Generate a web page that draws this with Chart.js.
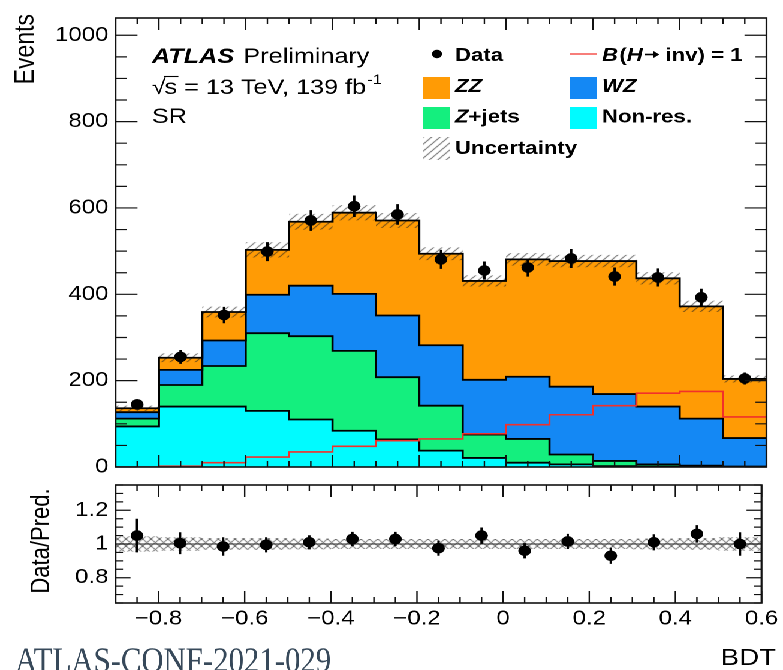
<!DOCTYPE html>
<html>
<head>
<meta charset="utf-8">
<script src="https://cdn.jsdelivr.net/npm/chart.js@4.4.1/dist/chart.umd.min.js"></script>
<style>
  html, body { margin: 0; padding: 0; background: #fff; overflow: hidden; }
  #wrap { position: absolute; left: 0; top: 0; width: 653px; height: 670px;
          transform: scaleX(1.19908); transform-origin: 0 0; }
  #wrap canvas { position: absolute; left: 0; top: 0; }
</style>
</head>
<body>
<div id="wrap">
  <canvas id="mainCanvas" width="653" height="670"></canvas>
  <canvas id="ratioCanvas" width="653" height="670"></canvas>
</div>
<script>
// ---- histogram content -------------------------------------------------
// BDT bin edges
const binEdges = [-0.9, -0.8, -0.7, -0.6, -0.5, -0.4, -0.3, -0.2, -0.1, 0.0, 0.1, 0.2, 0.3, 0.4, 0.5, 0.6];
// Background expectations per bin (events), stacked bottom to top
const nonRes = [94, 140, 140, 130, 110, 84, 64, 38, 21, 10, 6, 2, 1, 1, 0];
const zJets  = [18, 50, 94, 180, 193, 185, 144, 104, 54, 55, 23, 12, 5, 2, 1];
const wz     = [15, 35, 59, 89, 117, 132, 143, 140, 127, 144, 157, 155, 134, 109, 66];
const zz     = [9, 28, 66, 104, 148, 188, 220, 212, 229, 272, 291, 308, 297, 260, 137];
// Signal with B(H→inv) = 1, drawn unstacked
const signal = [0, 2, 10, 23, 35, 48, 61, 65, 77, 98, 121, 142, 171, 175, 116];
// Observed events and their statistical errors
const data    = [145, 255, 352, 499, 571, 604, 585, 481, 455, 462, 483, 441, 439, 393, 205];
const dataErr = [12, 16, 19, 22, 24, 25, 24, 22, 21, 21, 22, 21, 21, 20, 14];
// Data / prediction and its error
const ratio    = [1.05, 1.005, 0.985, 0.995, 1.01, 1.03, 1.03, 0.975, 1.05, 0.96, 1.015, 0.93, 1.01, 1.06, 1.0];
const ratioErr = [0.10, 0.065, 0.055, 0.045, 0.042, 0.042, 0.042, 0.045, 0.048, 0.045, 0.045, 0.048, 0.048, 0.052, 0.07];
// Relative uncertainty on the total prediction
const relUnc = [0.045, 0.04, 0.035, 0.035, 0.032, 0.03, 0.03, 0.03, 0.03, 0.03, 0.03, 0.03, 0.032, 0.035, 0.04];

// Axis ticks
const xTicks = [-0.8, -0.6, -0.4, -0.2, 0, 0.2, 0.4, 0.6];
const yTicks = [0, 200, 400, 600, 800, 1000];
const rTicks = [0.8, 1, 1.2];

// ---- geometry ------------------------------------------------------------
const W = 653, H = 670;
const SX = 783 / W;                 // the page is widened horizontally by this factor
const ux = x => x / SX;             // page x -> drawing x
const FRAME_L = ux(115.5), FRAME_R = ux(766.5);
const FONT = '"Liberation Sans", Arial, Helvetica, sans-serif';

const COLORS = {
  nonRes: '#00fbff', zJets: '#14ef7e', wz: '#1488f4', zz: '#ff9b05',
  signal: '#f2302a'
};

// ---- derived tables for the library -------------------------------------
const nBins = binEdges.length - 1;
const binCenters = binEdges.slice(0, nBins).map((e, i) => (e + binEdges[i + 1]) / 2);
const stackParts = [nonRes, zJets, wz, zz];
const cumulative = [];
{
  let run = new Array(nBins).fill(0);
  for (const part of stackParts) {
    run = run.map((v, i) => v + part[i]);
    cumulative.push(run);
  }
}
const total = cumulative[cumulative.length - 1];
const stepPoints = vals => binEdges.map((e, i) => ({ x: e, y: vals[Math.min(i, nBins - 1)] }));

// Hatch patterns
function hatchPattern(color, cross, size) {
  const c = document.createElement('canvas');
  c.width = size; c.height = size;
  const g = c.getContext('2d');
  g.strokeStyle = color; g.lineWidth = 1;
  g.beginPath();
  g.moveTo(-1, size + 1); g.lineTo(size + 1, -1);
  g.moveTo(-1, 1); g.lineTo(1, -1);
  g.moveTo(size - 1, size + 1); g.lineTo(size + 1, size - 1);
  if (cross) {
    g.moveTo(-1, -1); g.lineTo(size + 1, size + 1);
    g.moveTo(size - 1, -1); g.lineTo(size + 1, 1);
    g.moveTo(-1, size - 1); g.lineTo(1, size + 1);
  }
  g.stroke();
  return g.createPattern(c, 'repeat');
}
const mainHatch = hatchPattern('rgba(35,35,35,0.85)', false, 7);
const ratioHatch = hatchPattern('rgba(60,60,60,0.85)', true, 7);

// ---- shared drawing helpers --------------------------------------------
function frameAndTicks(chart, opt) {
  const { ctx, chartArea: a } = chart;
  const xs = chart.scales.x, ys = chart.scales.y;
  ctx.save();
  ctx.strokeStyle = '#111';
  ctx.lineWidth = 1.2;
  ctx.beginPath();
  for (const v of opt.xMinor) {
    const px = xs.getPixelForValue(v);
    const len = opt.xMajor.some(m => Math.abs(m - v) < 1e-9) ? opt.xLen : opt.xLen / 2;
    ctx.moveTo(px, a.bottom); ctx.lineTo(px, a.bottom - len);
    ctx.moveTo(px, a.top); ctx.lineTo(px, a.top + len);
  }
  for (const v of opt.yMinor) {
    const py = ys.getPixelForValue(v);
    const len = opt.yMajor.some(m => Math.abs(m - v) < 1e-9) ? opt.yLen : opt.yLen / 2;
    ctx.moveTo(a.left, py); ctx.lineTo(a.left + len, py);
    ctx.moveTo(a.right, py); ctx.lineTo(a.right - len, py);
  }
  ctx.stroke();
  ctx.lineWidth = 1.6;
  ctx.strokeRect(a.left, a.top, a.right - a.left, a.bottom - a.top);
  ctx.restore();
}
function range(from, to, step) {
  const out = [];
  for (let k = 0; from + k * step <= to + 1e-9; k++) out.push(+(from + k * step).toFixed(6));
  return out;
}
const xMinor = range(-0.9, 0.6, 0.05);

function txt(ctx, s, x, y, font, color) {
  ctx.font = font;
  ctx.fillStyle = color || '#000';
  ctx.fillText(s, x, y);
  return ctx.measureText(s).width;
}

// ---- main panel -----------------------------------------------------------
const mainPlugin = {
  id: 'mainDecor',
  beforeDatasetDraw(chart, args) {
    if (args.index !== 7) return;
    const { ctx } = chart;
    const xs = chart.scales.x, ys = chart.scales.y;
    ctx.save();
    ctx.strokeStyle = '#000';
    ctx.lineWidth = 2;
    ctx.beginPath();
    data.forEach((d, i) => {
      const px = xs.getPixelForValue(binCenters[i]);
      ctx.moveTo(px, ys.getPixelForValue(d - dataErr[i]));
      ctx.lineTo(px, ys.getPixelForValue(d + dataErr[i]));
    });
    ctx.stroke();
    ctx.restore();
  },
  afterDatasetsDraw(chart) {
    frameAndTicks(chart, {
      xMinor, xMajor: xTicks, xLen: 12,
      yMinor: range(0, 1000, 50), yMajor: yTicks, yLen: ux(22)
    });
  },
  afterDraw(chart) {
    const { ctx } = chart;
    ctx.save();
    ctx.textBaseline = 'alphabetic';
    ctx.textAlign = 'left';
    // Experiment label
    let x = ux(152);
    const reg = '21px ' + FONT;
    x += txt(ctx, 'ATLAS', x, 63, 'italic bold 21px ' + FONT);
    txt(ctx, ' Preliminary', x + 2, 63, reg);
    x = ux(152);
    const wRad = txt(ctx, '\u221A', x, 94, reg);
    const wS = txt(ctx, 's', x + wRad - 1, 94, reg);
    ctx.strokeStyle = '#000'; ctx.lineWidth = 1.1;
    ctx.beginPath(); ctx.moveTo(x + wRad - 1.5, 76.5); ctx.lineTo(x + wRad + wS, 76.5); ctx.stroke();
    let x2 = x + wRad + wS - 1;
    x2 += txt(ctx, ' = 13 TeV, 139 fb', x2, 94, reg);
    txt(ctx, '-1', x2 + 1, 84, '14px ' + FONT);
    txt(ctx, 'SR', ux(152), 123, reg);

    // Legend
    const lb = 'bold 18.5px ' + FONT, lbi = 'italic bold 18.5px ' + FONT;
    const c1 = ux(423), c2 = ux(570), t1 = ux(455), t2 = ux(602);
    const bw = ux(27);
    ctx.fillStyle = '#000';
    ctx.beginPath(); ctx.arc(ux(437), 54, 4.2, 0, Math.PI * 2); ctx.fill();
    txt(ctx, 'Data', t1, 61, lb);
    ctx.strokeStyle = COLORS.signal; ctx.lineWidth = 1.2;
    ctx.beginPath(); ctx.moveTo(c2, 54); ctx.lineTo(c2 + bw, 54); ctx.stroke();
    let xb = t2;
    xb += txt(ctx, 'B', xb, 61, lbi);
    xb += txt(ctx, '(', xb + 1, 61, lb) + 1;
    xb += txt(ctx, 'H', xb, 61, lbi);
    // arrow H → inv
    const ay = 54.5, ax0 = xb + 2, ax1 = xb + 13;
    ctx.strokeStyle = '#000'; ctx.lineWidth = 1.6;
    ctx.beginPath(); ctx.moveTo(ax0, ay); ctx.lineTo(ax1 - 1, ay); ctx.stroke();
    ctx.beginPath(); ctx.moveTo(ax1 + 1, ay); ctx.lineTo(ax1 - 4, ay - 3.5); ctx.lineTo(ax1 - 4, ay + 3.5);
    ctx.closePath(); ctx.fillStyle = '#000'; ctx.fill();
    txt(ctx, ' inv) = 1', ax1 + 1, 61, lb);

    const boxes = [
      [c1, 77, COLORS.zz], [c2, 77, COLORS.wz],
      [c1, 107, COLORS.zJets], [c2, 107, COLORS.nonRes]
    ];
    for (const [bx, by, col] of boxes) { ctx.fillStyle = col; ctx.fillRect(bx, by, bw, 22); }
    ctx.fillStyle = mainHatch; ctx.fillRect(c1, 137, bw, 23);
    txt(ctx, 'ZZ', t1, 92, lbi);
    txt(ctx, 'WZ', t2, 92, lbi);
    const wZ = txt(ctx, 'Z', t1, 122.5, lbi);
    txt(ctx, '+jets', t1 + wZ, 122.5, lb);
    txt(ctx, 'Non-res.', t2, 122.5, lb);
    txt(ctx, 'Uncertainty', t1, 154, lb);

    // Y title
    ctx.translate(28, 14);
    ctx.rotate(-Math.PI / 2);
    ctx.textAlign = 'right';
    txt(ctx, 'Events', 0, 0, '23px ' + FONT);
    ctx.restore();
  }
};

const stepDs = (label, vals, color, fill, order) => ({
  label, data: stepPoints(vals), stepped: true, fill,
  backgroundColor: color, borderColor: '#000', borderWidth: 1.8,
  pointRadius: 0, order
});

new Chart(document.getElementById('mainCanvas'), {
  type: 'line',
  data: {
    datasets: [
      stepDs('Non-res.', cumulative[0], COLORS.nonRes, 'origin', 7),
      stepDs('Z+jets', cumulative[1], COLORS.zJets, '-1', 6),
      stepDs('WZ', cumulative[2], COLORS.wz, '-1', 5),
      stepDs('ZZ', cumulative[3], COLORS.zz, '-1', 4),
      { label: 'unc-low', data: stepPoints(total.map((t, i) => t * (1 - relUnc[i]))), stepped: true,
        fill: false, borderWidth: 0, borderColor: 'rgba(0,0,0,0)', pointRadius: 0, order: 3 },
      { label: 'Uncertainty', data: stepPoints(total.map((t, i) => t * (1 + relUnc[i]))), stepped: true,
        fill: '-1', backgroundColor: mainHatch, borderWidth: 0, borderColor: 'rgba(0,0,0,0)', pointRadius: 0, order: 2 },
      { label: 'B(H→inv) = 1', data: stepPoints(signal), stepped: true, fill: false,
        borderColor: COLORS.signal, borderWidth: 1.6, pointRadius: 0, order: 1 },
      { label: 'Data', data: data.map((d, i) => ({ x: binCenters[i], y: d })), showLine: false,
        pointRadius: 5.3, pointBackgroundColor: '#000', pointBorderWidth: 0, order: 0 }
    ]
  },
  options: {
    responsive: false, animation: false, devicePixelRatio: 2,
    layout: { padding: { left: 0, right: W - FRAME_R, top: 13.5, bottom: 0 } },
    plugins: { legend: { display: false }, tooltip: { enabled: false },
               filler: { drawTime: 'beforeDatasetsDraw' } },
    scales: {
      x: { type: 'linear', min: -0.9, max: 0.6,
           grid: { display: false, drawTicks: false }, border: { display: false },
           ticks: { display: false },
           afterBuildTicks: s => { s.ticks = xTicks.map(v => ({ value: v })); },
           afterFit: s => { s.height = H - 467; } },
      y: { type: 'linear', min: 0, max: 1040,
           grid: { display: false, drawTicks: false }, border: { display: false },
           ticks: { padding: 6, color: '#000', font: { family: FONT, size: 20 },
                    callback: v => String(v) },
           afterBuildTicks: s => { s.ticks = yTicks.map(v => ({ value: v })); },
           afterFit: s => { s.width = FRAME_L; } }
    }
  },
  plugins: [mainPlugin]
});

// ---- ratio panel ----------------------------------------------------------
const ratioPlugin = {
  id: 'ratioDecor',
  beforeDatasetDraw(chart, args) {
    if (args.index !== 2) return;
    const { ctx, chartArea: a } = chart;
    const xs = chart.scales.x, ys = chart.scales.y;
    ctx.save();
    ctx.strokeStyle = '#222';
    ctx.lineWidth = 1;
    const p1 = ys.getPixelForValue(1);
    ctx.beginPath(); ctx.moveTo(a.left, p1); ctx.lineTo(a.right, p1); ctx.stroke();
    ctx.strokeStyle = '#000';
    ctx.lineWidth = 2;
    ctx.beginPath();
    ratio.forEach((r, i) => {
      const px = xs.getPixelForValue(binCenters[i]);
      ctx.moveTo(px, ys.getPixelForValue(r - ratioErr[i]));
      ctx.lineTo(px, ys.getPixelForValue(r + ratioErr[i]));
    });
    ctx.stroke();
    ctx.restore();
  },
  afterDatasetsDraw(chart) {
    frameAndTicks(chart, {
      xMinor, xMajor: xTicks, xLen: 12,
      yMinor: range(0.65, 1.35, 0.05), yMajor: rTicks, yLen: ux(15)
    });
  },
  afterDraw(chart) {
    const { ctx } = chart;
    ctx.save();
    ctx.textBaseline = 'alphabetic';
    ctx.textAlign = 'right';
    txt(ctx, 'BDT', ux(776), 665, '23px ' + FONT);
    // Note label
    ctx.textAlign = 'left';
    ctx.font = '36px "Liberation Serif", "Times New Roman", serif';
    const wNote = ctx.measureText('ATLAS-CONF-2021-029').width;
    ctx.save();
    ctx.translate(ux(15), 672);
    ctx.scale(ux(316) / wNote, 1);
    ctx.fillStyle = '#37495a';
    ctx.fillText('ATLAS-CONF-2021-029', 0, 0);
    ctx.restore();
    // Y title
    ctx.translate(41, 541);
    ctx.rotate(-Math.PI / 2);
    ctx.textAlign = 'center';
    txt(ctx, 'Data/Pred.', 0, 0, '22px ' + FONT);
    ctx.restore();
  }
};

new Chart(document.getElementById('ratioCanvas'), {
  type: 'line',
  data: {
    datasets: [
      { label: 'unc-low', data: stepPoints(relUnc.map(u => 1 - u)), stepped: true, fill: false,
        borderWidth: 0, borderColor: 'rgba(0,0,0,0)', pointRadius: 0, order: 2 },
      { label: 'Uncertainty', data: stepPoints(relUnc.map(u => 1 + u)), stepped: true, fill: '-1',
        backgroundColor: ratioHatch, borderWidth: 0, borderColor: 'rgba(0,0,0,0)', pointRadius: 0, order: 1 },
      { label: 'Data/Pred.', data: ratio.map((r, i) => ({ x: binCenters[i], y: r })), showLine: false,
        pointRadius: 5.3, pointBackgroundColor: '#000', pointBorderWidth: 0, order: 0 }
    ]
  },
  options: {
    responsive: false, animation: false, devicePixelRatio: 2,
    layout: { padding: { left: 0, right: W - FRAME_R, top: 485, bottom: 0 } },
    plugins: { legend: { display: false }, tooltip: { enabled: false },
               filler: { drawTime: 'beforeDatasetsDraw' } },
    scales: {
      x: { type: 'linear', min: -0.9, max: 0.6,
           grid: { display: false, drawTicks: false }, border: { display: false },
           ticks: { padding: 4, color: '#000', maxRotation: 0, font: { family: FONT, size: 20 },
                    callback: v => v === 0 ? '0' : (v < 0 ? '\u2212' : '') + Math.abs(v).toFixed(1) },
           afterBuildTicks: s => { s.ticks = xTicks.map(v => ({ value: v })); },
           afterFit: s => { s.height = H - 603; } },
      y: { type: 'linear', min: 0.65, max: 1.35,
           grid: { display: false, drawTicks: false }, border: { display: false },
           ticks: { padding: 6, color: '#000', font: { family: FONT, size: 20 },
                    callback: v => String(+v.toFixed(1)) },
           afterBuildTicks: s => { s.ticks = rTicks.map(v => ({ value: v })); },
           afterFit: s => { s.width = FRAME_L; } }
    }
  },
  plugins: [ratioPlugin]
});
</script>
</body>
</html>
